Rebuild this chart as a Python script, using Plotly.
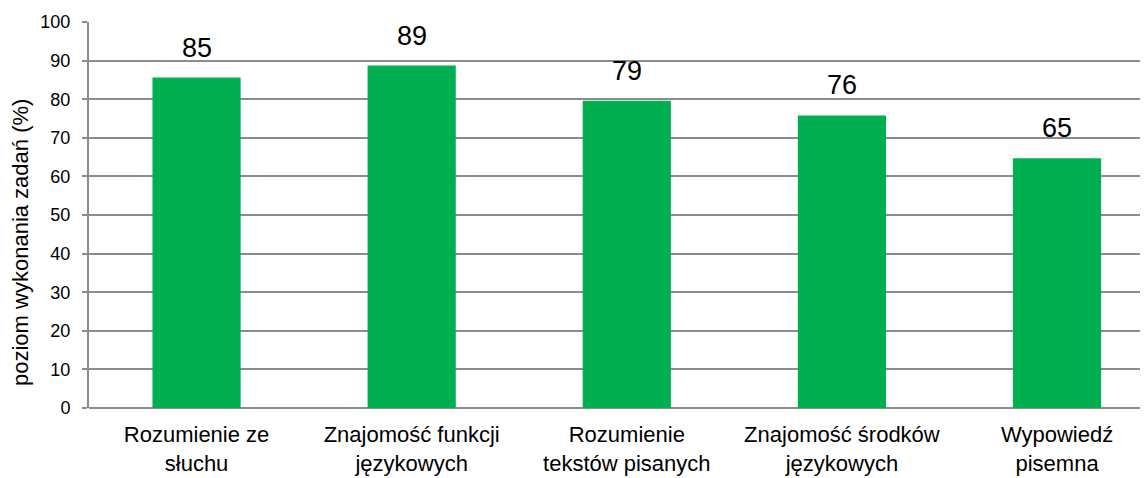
import plotly.graph_objects as go

# Data
categories = ["Rozumienie ze<br>słuchu", "Znajomość funkcji<br>językowych",
              "Rozumienie<br>tekstów pisanych", "Znajomość środków<br>językowych",
              "Wypowiedź<br>pisemna"]
values = [85.6, 88.7, 79.6, 75.8, 64.7]
value_labels = ["85", "89", "79", "76", "65"]
y_ticks = [0, 10, 20, 30, 40, 50, 60, 70, 80, 90, 100]
y_title = "poziom wykonania zadań (%)"

FONT = "Liberation Sans, Arial, sans-serif"
GRID = "#8c8c8c"

xs = list(range(len(categories)))

fig = go.Figure(go.Bar(
    x=xs,
    y=values,
    width=0.41,
    marker=dict(color="#00b050", line=dict(width=0)),
    hoverinfo="y",
))

# Value labels sit a bit higher above the bars than plotly's default outside text
for x, v, lab in zip(xs, values, value_labels):
    fig.add_annotation(x=x, y=v, text=lab, showarrow=False,
                       yanchor="middle", yshift=30,
                       font=dict(family=FONT, size=27, color="#000000"))

# y-axis title as an annotation so it can be placed like the reference
fig.add_annotation(xref="paper", yref="paper", x=-0.0647, y=0.43,
                   xanchor="center", yanchor="middle", textangle=-90,
                   text=y_title, showarrow=False,
                   font=dict(family=FONT, size=22, color="#000000"))

# page body has an 8px margin, so margins are trimmed to land the plot where the reference has it
fig.update_layout(
    width=1148, height=478,
    margin=dict(l=81, r=0, t=14, b=78),
    plot_bgcolor="#ffffff",
    paper_bgcolor="#ffffff",
    showlegend=False,
    font=dict(family=FONT, color="#000000"),
)

# Plot area runs slightly past the right edge in the reference
fig.update_xaxes(
    range=[-0.5, 4.46],
    tickmode="array",
    tickvals=xs,
    ticktext=categories,
    tickfont=dict(family=FONT, size=22, color="#000000"),
    ticklabelstandoff=11,
    showgrid=False,
    showline=False,
    ticks="",
    zeroline=False,
)

fig.update_yaxes(
    range=[0, 100],
    tickvals=y_ticks,
    tickfont=dict(family=FONT, size=18, color="#000000"),
    ticklabelstandoff=8,
    showgrid=True, gridcolor=GRID, gridwidth=1.5,
    showline=True, linecolor=GRID, linewidth=2,
    ticks="outside", ticklen=5, tickcolor=GRID, tickwidth=1.5,
    zeroline=True, zerolinecolor=GRID, zerolinewidth=2,
)

fig.write_html("out.html")
